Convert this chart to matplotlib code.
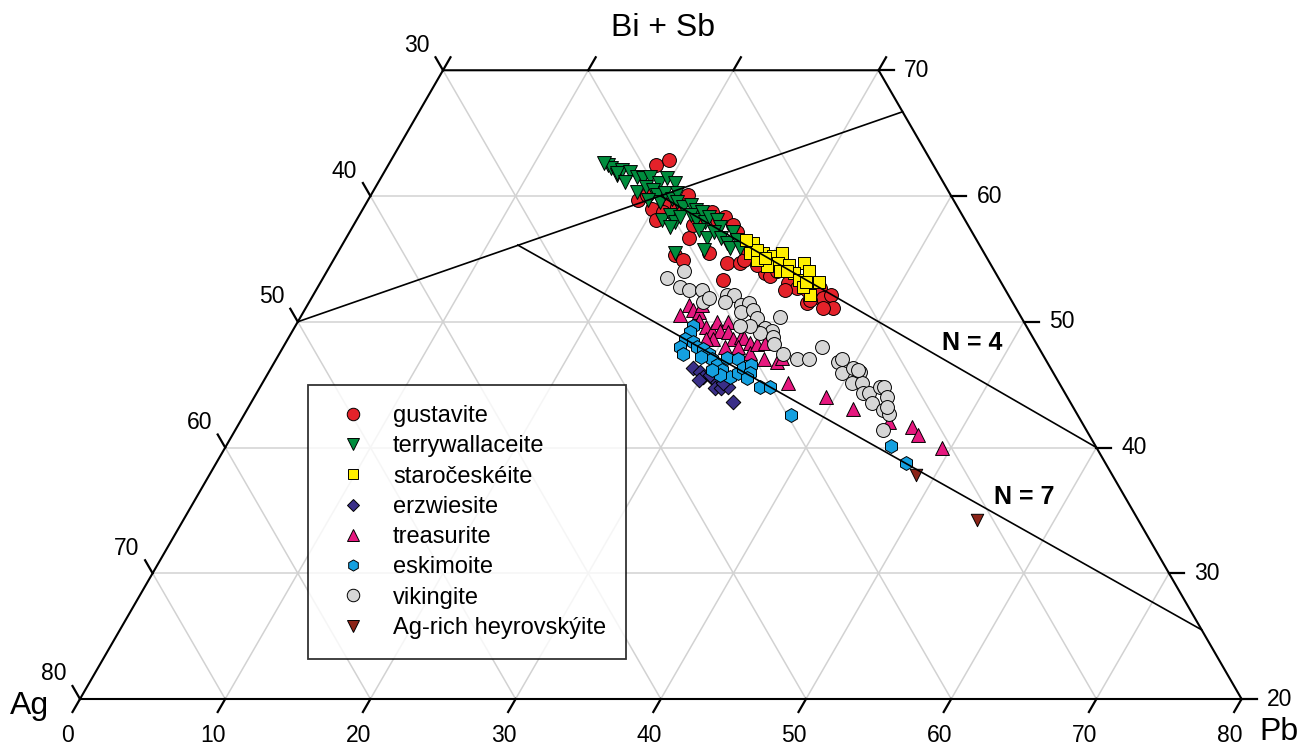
import numpy as np
import matplotlib
matplotlib.use("Agg")
import matplotlib.pyplot as plt
from matplotlib.lines import Line2D

plt.rcParams['font.family'] = ['Liberation Sans', 'DejaVu Sans']

# ---------------- data: (Pb, Bi+Sb) in at.% ; Ag = 100 - Pb - (Bi+Sb) ----------------
gus_pb = [18.4, 19.1, 18.6, 19.0, 19.9, 20.6, 20.9, 21.6, 21.8, 23.6, 23.4, 24.2, 24.8, 25.3,
          26.1, 26.7, 25.6, 23.3, 24.1, 27.2, 27.6, 28.1, 28.3, 30.2, 30.7, 31.0, 32.2, 33.0,
          33.8, 34.3, 34.8, 34.6, 35.2, 35.7, 36.3, 35.6, 34.4, 20.8, 23.6, 27.9, 29.4, 32.3]
gus_bisb = [62.5, 62.9, 59.7, 60.1, 59.0, 58.1, 59.4, 59.1, 60.1, 56.7, 57.7, 58.7, 58.1, 58.3,
            57.7, 57.1, 55.5, 55.3, 54.9, 54.7, 53.3, 54.7, 54.9, 53.9, 53.6, 54.0, 53.1, 52.7,
            52.5, 51.5, 52.0, 52.7, 51.9, 52.1, 51.1, 51.1, 51.7, 58.7, 58.3, 55.9, 54.5, 52.5]

ter_pb = [15.1, 15.5, 16.1, 16.3, 16.1, 16.9, 17.6, 18.1, 18.5, 19.4, 19.7, 20.5, 18.2, 18.6,
          19.2, 19.7, 20.2, 20.2, 20.9, 21.0, 21.4, 22.0, 22.4, 23.0, 21.0, 21.4, 22.0, 22.2,
          22.8, 23.4, 23.5, 24.1, 24.2, 24.8, 25.3, 24.0, 24.8, 25.1, 25.8, 26.4, 26.4, 27.0,
          26.8, 27.5, 25.1, 23.2, 21.9, 14.8, 17.0, 19.3]
ter_bisb = [62.5, 62.2, 61.7, 62.1, 61.8, 61.9, 61.5, 61.4, 61.5, 61.0, 61.4, 61.0, 60.3, 60.7,
            60.5, 60.1, 59.5, 60.2, 59.8, 60.2, 59.5, 59.1, 59.3, 58.9, 58.1, 58.5, 57.9, 58.3,
            58.5, 58.1, 58.7, 57.9, 58.3, 58.1, 57.5, 57.3, 56.7, 57.1, 56.7, 56.3, 57.1, 56.5,
            55.9, 55.9, 55.7, 55.5, 57.5, 62.6, 61.1, 59.7]

sta_pb = [28.2, 28.4, 29.3, 30.1, 30.6, 30.7, 30.1, 29.2, 31.2, 31.6, 32.5, 32.2, 32.9, 33.2,
          34.3, 34.2, 33.4, 28.8, 29.6, 31.7, 33.4, 27.6]
sta_bisb = [56.3, 55.5, 55.5, 55.2, 55.5, 54.7, 54.4, 54.9, 54.0, 54.5, 54.7, 53.9, 53.3, 54.0,
            53.2, 52.1, 52.8, 55.7, 55.1, 54.0, 53.2, 56.5]

erz_pb = [29.1, 29.7, 30.1, 29.9, 30.8, 31.3, 31.4, 31.8, 32.2, 33.2, 31.7, 30.5]
erz_bisb = [46.3, 46.0, 45.6, 45.4, 45.5, 45.2, 44.7, 44.7, 44.8, 43.6, 45.1, 45.8]

tre_pb = [26.1, 26.3, 26.8, 27.2, 27.2, 27.6, 28.3, 28.9, 28.9, 29.6, 29.4, 29.3, 30.0, 30.7,
          31.1, 31.4, 32.0, 32.4, 32.5, 33.0, 33.6, 34.6, 34.8, 30.4, 31.3, 28.8, 36.2, 39.4,
          41.7, 44.7, 46.5, 47.2, 49.4]
tre_bisb = [50.5, 51.3, 50.9, 50.8, 51.3, 50.1, 49.6, 49.3, 50.0, 50.0, 49.3, 48.6, 49.2, 48.6,
            48.8, 48.7, 48.3, 47.5, 48.2, 48.3, 47.0, 46.8, 47.1, 48.0, 48.0, 48.6, 45.1, 44.0,
            43.1, 42.0, 41.6, 41.0, 40.0]

esk_pb = [27.4, 27.4, 27.4, 27.3, 27.8, 28.0, 28.5, 29.0, 29.6, 30.0, 29.2, 30.6, 31.1, 31.0,
          31.8, 32.0, 32.4, 32.5, 32.9, 33.2, 33.2, 34.4, 35.1, 37.7, 31.2, 30.4, 45.8, 47.5]
esk_bisb = [49.7, 49.2, 48.6, 48.0, 47.4, 48.4, 48.0, 47.8, 47.4, 47.0, 47.2, 46.6, 46.2, 47.1,
            47.0, 45.6, 45.9, 46.3, 46.6, 45.9, 45.5, 44.8, 44.8, 42.6, 45.8, 46.2, 40.1, 38.8]

vik_pb = [23.7, 24.6, 24.9, 25.7, 26.6, 27.1, 28.5, 29.0, 28.6, 29.9, 30.3, 30.1, 30.9, 31.5,
          32.4, 33.0, 32.3, 33.3, 33.7, 33.0, 31.3, 30.6, 34.7, 35.9, 36.7, 37.1, 38.8, 39.5,
          40.1, 40.7, 40.6, 41.3, 41.8, 42.2, 42.8, 42.7, 43.0, 43.6, 43.8, 44.4, 39.0, 40.5,
          44.0, 44.6, 27.4]
vik_bisb = [53.5, 54.0, 52.8, 52.5, 52.5, 51.6, 52.1, 52.1, 51.6, 51.3, 51.5, 50.8, 50.9, 50.3,
            49.5, 49.3, 49.1, 48.8, 48.2, 50.4, 49.7, 49.7, 47.4, 47.0, 47.0, 48.0, 46.8, 45.9,
            46.3, 46.0, 45.1, 45.1, 44.3, 44.3, 43.5, 44.8, 44.8, 44.0, 43.0, 42.7, 47.0, 46.2,
            43.2, 41.4, 51.9]

hey_pb = [48.7, 54.7]
hey_bisb = [37.8, 34.2]

# reference lines (Pb, Bi+Sb endpoints)
line_agbis_pb = [0.0, 33.3]
line_agbis_bisb = [50.0, 66.7]
line_n4_pb = [20.0, 60.0]
line_n4_bisb = [60.0, 40.0]
line_n7_pb = [12.1, 74.5]
line_n7_bisb = [56.1, 25.5]

pb_ticks_bottom = [0, 10, 20, 30, 40, 50, 60, 70, 80]
pb_ticks_top = [0, 10, 20, 30]
ag_ticks = [30, 40, 50, 60, 70, 80]
bisb_ticks = [20, 30, 40, 50, 60, 70]

minerals = ['gustavite', 'terrywallaceite', 'staročeskéite', 'erzwiesite',
            'treasurite', 'eskimoite', 'vikingite', 'Ag-rich heyrovskýite']

# ---------------- ternary transform (truncated at Bi+Sb = 20 .. 70) ----------------
SQ = np.sqrt(3) / 2.0


def tern(pb, bisb):
    pb = np.asarray(pb, float)
    bisb = np.asarray(bisb, float)
    h = bisb - 20.0
    return pb + h / 2.0, h * SQ


S = 14.52  # px per unit
fig = plt.figure(figsize=(13.01, 7.46), dpi=100)
ax = fig.add_axes([0, 0, 1, 1])
ax.set_xlim(-80 / S, (1301 - 80) / S)
ax.set_ylim((699 - 746) / S, 699 / S)
ax.set_aspect('equal')
ax.axis('off')


def px(xp, yp):
    """pixel position of the reference layout -> axes data coordinates (for text placement)"""
    return (xp - 80) / S, (699 - yp) / S


gcol = '#d2d2d2'
glw = 1.1
# grid lines
for b in [30, 40, 50, 60]:
    x, y = tern([0, 100 - b], [b, b])
    ax.plot(x, y, color=gcol, lw=glw, zorder=1)
for p in range(10, 80, 10):
    btop = 70 if p <= 30 else 100 - p
    x, y = tern([p, p], [20, btop])
    ax.plot(x, y, color=gcol, lw=glw, zorder=1)
for a in range(10, 80, 10):
    if a >= 30:
        x, y = tern([80 - a, 0], [20, 100 - a])
    else:
        x, y = tern([80 - a, 30 - a], [20, 70])
    ax.plot(x, y, color=gcol, lw=glw, zorder=1)

# frame
x, y = tern([0, 80, 30, 0, 0], [20, 20, 70, 70, 20])
ax.plot(x, y, color='black', lw=1.5, zorder=2, solid_joinstyle='miter')

# ticks
L = 15 / S
tlw = 1.6
fs_tick = 16.5
for p in pb_ticks_bottom:
    x0, y0 = tern(p, 20)
    ax.plot([x0, x0 - 0.5 * L], [y0, y0 - SQ * L], color='black', lw=tlw, zorder=2)
    ax.text(x0 - 12 / S, y0 - 36 / S, str(p), ha='center', va='center', fontsize=fs_tick)
for p in pb_ticks_top:
    x0, y0 = tern(p, 70)
    ax.plot([x0, x0 + 0.5 * L], [y0, y0 + SQ * L], color='black', lw=tlw, zorder=2)
for a in ag_ticks:
    x0, y0 = tern(0, 100 - a)
    ax.plot([x0, x0 - 0.5 * L], [y0, y0 + SQ * L], color='black', lw=tlw, zorder=2)
    ax.text(x0 - 26 / S, y0 + 25 / S, str(a), ha='center', va='center', fontsize=fs_tick)
for b in bisb_ticks:
    x0, y0 = tern(100 - b, b)
    ax.plot([x0, x0 + L], [y0, y0], color='black', lw=tlw, zorder=2)
    ax.text(x0 + 38 / S, y0, str(b), ha='center', va='center', fontsize=fs_tick)

# axis titles
ax.text(*px(663, 28), 'Bi + Sb', ha='center', va='center', fontsize=23)
ax.text(*px(30, 706), 'Ag', ha='center', va='center', fontsize=23)
ax.text(*px(1279, 732), 'Pb', ha='center', va='center', fontsize=23)

# data
edge = 'black'
ew = 0.7
series = [
    (gus_pb, gus_bisb, 'o', '#e4222a', 100),
    (ter_pb, ter_bisb, 'v', '#008d3d', 100),
    (sta_pb, sta_bisb, 's', '#ffef00', 85),
    (erz_pb, erz_bisb, 'D', '#3a2f88', 55),
    (tre_pb, tre_bisb, '^', '#e6187f', 100),
    (esk_pb, esk_bisb, 'h', '#14a0e0', 100),
    (vik_pb, vik_bisb, 'o', '#d6d6d6', 100),
    (hey_pb, hey_bisb, 'v', '#8c2418', 80),
]
for i, (pb, bs, mk, col, s) in enumerate(series):
    x, y = tern(pb, bs)
    ax.scatter(x, y, marker=mk, s=s, c=col, edgecolors=edge, linewidths=ew, zorder=3 + i * 0.01)

# reference lines
for lp, lb in [(line_agbis_pb, line_agbis_bisb), (line_n4_pb, line_n4_bisb), (line_n7_pb, line_n7_bisb)]:
    x, y = tern(lp, lb)
    ax.plot(x, y, color='black', lw=1.2, zorder=4)

ax.text(*px(972, 343), 'N = 4', ha='center', va='center', fontsize=18, fontweight='bold')
ax.text(*px(1024, 497), 'N = 7', ha='center', va='center', fontsize=18, fontweight='bold')

# legend
handles = []
leg_ms = [9, 8.5, 7.5, 6.5, 8.5, 8, 9, 8.5]
for (pb, bs, mk, col, s), name, ms in zip(series, minerals, leg_ms):
    handles.append(Line2D([], [], marker=mk, linestyle='none', markerfacecolor=col,
                          markeredgecolor='black', markeredgewidth=0.7, markersize=ms, label=name))
leg = ax.legend(handles=handles, loc='upper left', bbox_to_anchor=(308 / 1301, 1 - 385 / 746),
                bbox_transform=fig.transFigure, borderaxespad=0, fontsize=17, frameon=True,
                fancybox=False, edgecolor='black', borderpad=0.85, handlelength=2.15,
                handletextpad=0.6, labelspacing=0.35)
leg.get_frame().set_linewidth(1.3)
leg.set_zorder(5)

fig.savefig('out.png', dpi=100)
